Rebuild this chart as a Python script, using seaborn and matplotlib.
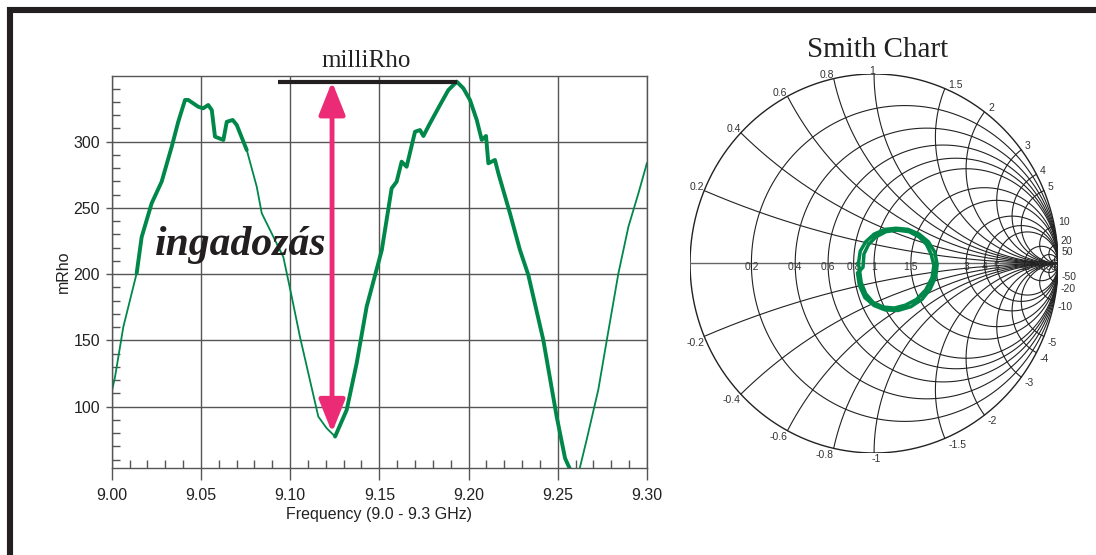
import numpy as np
import pandas as pd
import matplotlib
matplotlib.use("Agg")
import matplotlib.pyplot as plt
import seaborn as sns
from matplotlib.lines import Line2D
from matplotlib.ticker import MultipleLocator

# reflection magnitude over the sweep
freq_ghz = [9.000, 9.0019, 9.0065, 9.0140, 9.0168, 9.0224, 9.0280, 9.0336, 9.0373, 9.0411,
            9.0429, 9.0485, 9.0513, 9.0541, 9.0561, 9.0579, 9.0626, 9.0645, 9.0678, 9.0701,
            9.0757, 9.0813, 9.0841, 9.0915, 9.0962, 9.1009, 9.1055, 9.1111, 9.1158, 9.1205,
            9.1252, 9.1317, 9.1373, 9.1429, 9.1494, 9.1514, 9.1569, 9.1597, 9.1625, 9.1653,
            9.1700, 9.1728, 9.1747, 9.1784, 9.1840, 9.1887, 9.1934, 9.1971, 9.2008, 9.2046,
            9.2074, 9.2098, 9.2111, 9.2148, 9.2167, 9.2232, 9.2288, 9.2335, 9.2419, 9.2494,
            9.2541, 9.2578, 9.2615, 9.2662, 9.2727, 9.2775, 9.2840, 9.2896, 9.2952, 9.3000]
mrho = [111.0, 122.6, 160.0, 200.7, 228.0, 253.5, 269.8, 296.0, 315.0, 331.5,
        331.5, 326.4, 325.2, 327.7, 323.9, 303.8, 301.3, 315.0, 316.4, 312.6,
        293.7, 266.0, 246.0, 225.8, 213.0, 183.0, 152.8, 120.0, 92.5, 83.7,
        77.4, 97.5, 132.8, 175.5, 208.2, 218.3, 264.8, 269.8, 284.9, 281.1,
        307.5, 308.8, 304.3, 313.9, 327.7, 339.0, 345.3, 340.3, 331.5, 316.4,
        301.3, 304.3, 283.7, 286.2, 276.2, 246.0, 218.3, 199.4, 150.3, 92.5,
        61.0, 50.0, 49.0, 75.0, 112.6, 150.3, 200.7, 235.8, 261.0, 284.0]
# parts of the trace drawn heavier
thick_ranges = [(9.014, 9.0757), (9.1252, 9.2615)]

x_ticks = [9.00, 9.05, 9.10, 9.15, 9.20, 9.25, 9.30]
x_tick_labels = ["9.00", "9.05", "9.10", "9.15", "9.20", "9.25", "9.30"]
y_ticks = [100, 150, 200, 250, 300]

# smith chart grid values and the traced loop
r_vals = [0.2, 0.4, 0.6, 0.8, 1, 1.5, 2, 3, 4, 5, 10, 20, 50]
r_labels = ["0.2", "0.4", "0.6", "0.8", "1", "1.5", "2", "3", "4", "5", "10", "20", "50"]
smith_re = [-0.085, -0.075, -0.045, 0.0, 0.06, 0.12, 0.185, 0.245, 0.295, 0.33, 0.343,
            0.335, 0.305, 0.26, 0.20, 0.13, 0.06, 0.0, -0.05, -0.08, -0.09,
            -0.06, -0.055, -0.03, 0.01, 0.065, 0.125, 0.19, 0.245, 0.285, 0.31, 0.325,
            0.315, 0.28, 0.23, 0.17, 0.11, 0.05, -0.005, -0.045, -0.07, -0.08, -0.085]
smith_im = [0.0, 0.065, 0.115, 0.155, 0.18, 0.186, 0.18, 0.155, 0.115, 0.06, -0.005,
            -0.07, -0.135, -0.19, -0.228, -0.248, -0.245, -0.222, -0.18, -0.115, -0.05,
            -0.02, 0.05, 0.10, 0.14, 0.168, 0.176, 0.168, 0.14, 0.10, 0.05, -0.01,
            -0.075, -0.14, -0.19, -0.22, -0.235, -0.23, -0.205, -0.16, -0.10, -0.03, 0.0]

GREEN = "#00874a"
PINK = "#ec2b76"
INK = "#231f20"
GRID = "#555555"

sns.set_style("white")
plt.rcParams["font.family"] = ["Liberation Sans", "DejaVu Sans"]

fig = plt.figure(figsize=(10.96, 5.55), dpi=100)

# ---- left: mRho vs frequency
ax = fig.add_axes([0.1019, 0.1568, 0.4884, 0.7063])
df = pd.DataFrame({"freq": freq_ghz, "mrho": mrho})
sns.lineplot(data=df, x="freq", y="mrho", ax=ax, color=GREEN, linewidth=1.3)
for lo, hi in thick_ranges:
    seg = df[(df.freq >= lo) & (df.freq <= hi)]
    sns.lineplot(data=seg, x="freq", y="mrho", ax=ax, color=GREEN, linewidth=2.8)

ax.set_xlim(9.0, 9.3)
ax.set_ylim(53.7, 349.6)
ax.set_xticks(x_ticks)
ax.set_xticklabels(x_tick_labels)
ax.set_yticks(y_ticks)
ax.xaxis.set_minor_locator(MultipleLocator(0.01))
ax.yaxis.set_minor_locator(MultipleLocator(10))
ax.tick_params(axis="x", which="major", direction="out", length=8.6, width=1, pad=6,
               labelsize=11.5, color=GRID, bottom=True, labelcolor="#222222")
ax.tick_params(axis="y", which="major", direction="out", length=4.3, width=1, pad=4,
               labelsize=11.5, color=GRID, left=True, labelcolor="#222222")
ax.tick_params(which="minor", direction="in", length=5.5, width=1, color=GRID,
               bottom=True, left=True)
ax.grid(True, which="major", color=GRID, linewidth=1)
for s in ax.spines.values():
    s.set_color(GRID)
    s.set_linewidth(1)
ax.set_xlabel("Frequency (9.0 - 9.3 GHz)", fontsize=11.5, labelpad=3, color="#222222")
ax.set_ylabel("mRho", fontsize=11.5, labelpad=2, color="#222222")

ax.text(0.475, 1.024, "milliRho", transform=ax.transAxes, ha="center", va="baseline",
        fontsize=18, family="Liberation Serif", color="#222222")

# ripple marker: bar at the peak, double arrow from peak down to the trough
i_max = int(np.argmax(mrho[:len(mrho) - 10]))
i_min = int(np.argmin(mrho[:40]))
ax.hlines(mrho[i_max], 9.093, freq_ghz[i_max], color=INK, linewidth=3)
ax.annotate("", xy=(freq_ghz[i_min] - 0.0017, mrho[i_min] + 3),
            xytext=(freq_ghz[i_min] - 0.0017, mrho[i_max]),
            arrowprops=dict(arrowstyle="<|-|>,head_length=1.0,head_width=0.4",
                            mutation_scale=20, color=PINK, lw=3.5,
                            shrinkA=0, shrinkB=0), zorder=5)
ax.text(0.081, 0.543, "ingadozás", transform=ax.transAxes, va="baseline",
        fontsize=30, family="Liberation Serif", style="italic", weight="bold", color=INK)

# ---- right: Smith chart
ax2 = fig.add_axes([0.6296, 0.1838, 0.3358, 0.6829])
ax2.set_xlim(-1, 1)
ax2.set_ylim(-1, 1)
ax2.axis("off")

t = np.linspace(0, 2 * np.pi, 500)
LC = "#222222"
ax2.plot(np.cos(t), np.sin(t), color=LC, lw=1)
ax2.plot([-1, 1], [0, 0], color="#666666", lw=1)
for r in r_vals:
    c, rad = r / (1 + r), 1 / (1 + r)
    ax2.plot(c + rad * np.cos(t), rad * np.sin(t), color=LC, lw=0.8)
rr = np.concatenate([[0.0], np.geomspace(1e-3, 1e5, 600)])
for x in r_vals:
    for sgn in (1, -1):
        z = rr + 1j * sgn * x
        g = (z - 1) / (z + 1)
        ax2.plot(g.real, g.imag, color=LC, lw=0.8)

for r, lbl in zip(r_vals, r_labels):
    ax2.annotate(lbl, ((r - 1) / (r + 1), 0), xytext=(0, -2.5), textcoords="offset points",
                 ha="center", va="center", fontsize=7.5, color="#333333")
for x, lbl in zip(r_vals, r_labels):
    for sgn in (1, -1):
        g = (1j * sgn * x - 1) / (1j * sgn * x + 1)
        if abs(g.real) < 0.1:
            ha, dx = "center", 1.5 * sgn * -1
        elif g.real > 0:
            ha, dx = "left", 2.5
        else:
            ha, dx = "right", 0
        dy = 2.5 if sgn > 0 else -4.5
        text = lbl if sgn > 0 else "-" + lbl
        ax2.annotate(text, (g.real, g.imag), xytext=(dx, dy), textcoords="offset points",
                     ha=ha, va="center", fontsize=7.5, color="#333333", annotation_clip=False)

sns.lineplot(x=smith_re, y=smith_im, sort=False, estimator=None, ax=ax2,
             color=GREEN, linewidth=2.5, zorder=6)
ax2.set_xlim(-1, 1)
ax2.set_ylim(-1, 1)

fig.text(878 / 1096, 1 - 56.7 / 555, "Smith Chart", ha="center", va="baseline",
         fontsize=21, family="Liberation Serif", color="#222222")

# page frame (top and left)
fig.add_artist(Line2D([7 / 1096, 1], [1 - 10 / 555] * 2, lw=4.4, color=INK,
                      solid_capstyle="butt"))
fig.add_artist(Line2D([10 / 1096] * 2, [0, 1 - 7 / 555], lw=4.4, color=INK,
                      solid_capstyle="butt"))

fig.savefig("out.png", dpi=100)
